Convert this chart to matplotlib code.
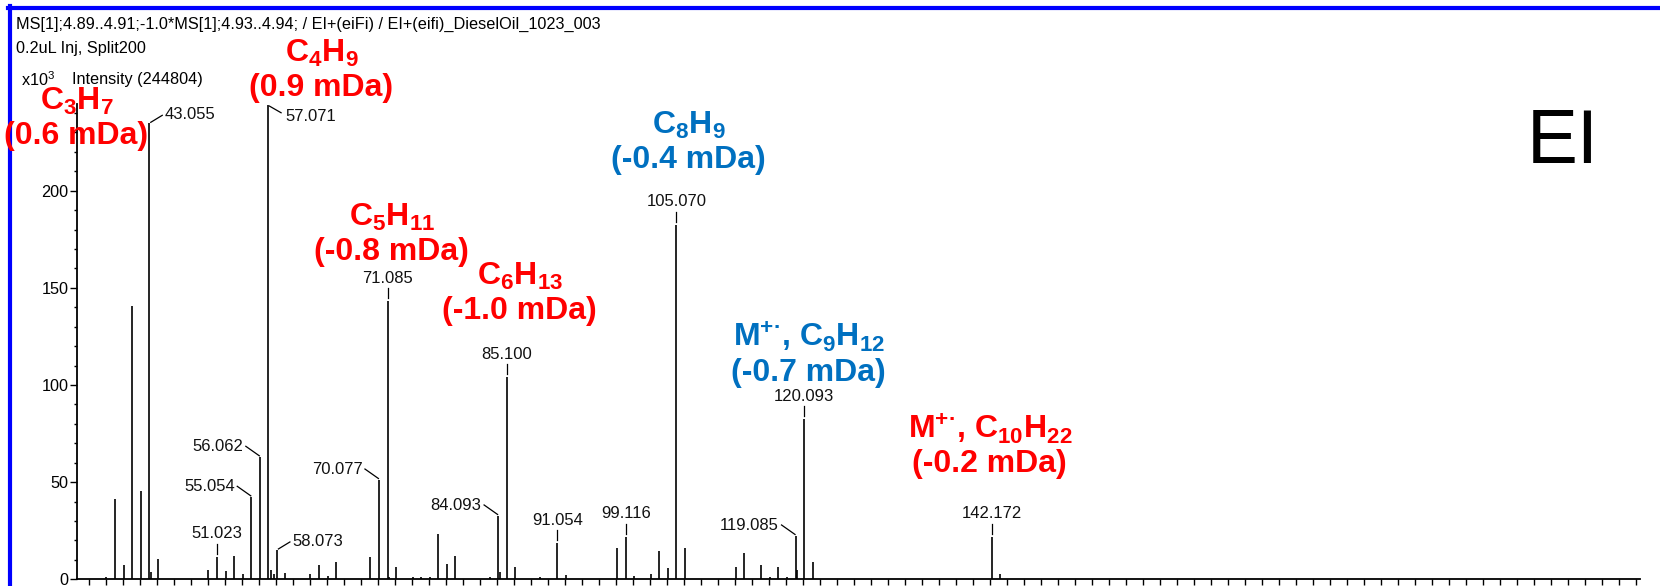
import matplotlib
matplotlib.use('Agg')
import matplotlib.pyplot as plt
from matplotlib.lines import Line2D
import numpy as np

W, H = 1660, 586

plt.rcParams['font.family'] = ['Liberation Sans', 'DejaVu Sans']
plt.rcParams['mathtext.default'] = 'regular'

# spectrum: m/z and intensity (x10^3)
mz = [38.02, 39.02, 40.03, 41.04, 42.05, 43.055, 43.3, 44.06,
      50.02, 51.023, 52.03, 53.04, 54.05, 55.054, 56.062, 57.071, 57.35, 57.7,
      58.073, 59.05, 62.02, 63.02, 64.03, 65.04, 67.05, 68.05, 69.07, 70.077,
      71.085, 71.3, 72.09, 74.05, 75.02, 76.03, 77.04, 78.05, 79.05, 82.08,
      83.09, 84.093, 84.3, 85.100, 86.10, 89.06, 91.054, 92.06, 95.08, 96.09,
      97.1, 98.11, 99.116, 100.12, 102.05, 103.05, 104.06, 105.070, 106.07,
      112.05, 113.08, 115.05, 116.06, 117.07, 118.08, 119.085, 119.3, 120.093,
      121.10, 124.08, 140.08, 142.172, 143.17]
intensity = [1.4, 41.5, 7.2, 140.8, 45.3, 234.7, 4.0, 10.5,
             4.8, 11.7, 4.1, 12.0, 2.6, 42.2, 62.8, 244.1, 4.8, 2.6,
             15.1, 3.4, 2.6, 7.2, 1.7, 8.7, 0.3, 0.3, 11.3, 51.1,
             143.0, 1.4, 6.2, 1.4, 1.4, 1.4, 23.2, 8.1, 12.0, 0.4,
             1.4, 32.6, 3.8, 104.0, 6.2, 1.4, 18.5, 2.4, 0.3, 0.3,
             0.3, 16.0, 22.0, 1.7, 2.6, 14.4, 5.7, 182.5, 16.0,
             6.2, 13.4, 7.2, 1.4, 6.2, 1.4, 22.3, 4.8, 82.5,
             8.7, 0.3, 0.3, 22.0, 2.7]

# labelled peaks
label_mz = [43.055, 57.071, 56.062, 55.054, 51.023, 58.073, 70.077, 71.085,
            84.093, 85.100, 91.054, 99.116, 105.070, 119.085, 120.093, 142.172]
label_side = ['ur', 'dr', 'ul', 'ul', 'v', 'ur', 'ul', 'v',
              'ul', 'v', 'v', 'v', 'v', 'ul', 'v', 'v']

# assigned formulas
formula = ['C$_3$H$_7$', 'C$_4$H$_9$', 'C$_5$H$_{11}$', 'C$_6$H$_{13}$',
           'C$_8$H$_9$', 'M$^{+·}$, C$_9$H$_{12}$', 'M$^{+·}$, C$_{10}$H$_{22}$']
mass_error = ['(0.6 mDa)', '(0.9 mDa)', '(-0.8 mDa)', '(-1.0 mDa)',
              '(-0.4 mDa)', '(-0.7 mDa)', '(-0.2 mDa)']
formula_color = ['#ff0000', '#ff0000', '#ff0000', '#ff0000',
                 '#0070c0', '#0070c0', '#ff0000']

header1 = 'MS[1];4.89..4.91;-1.0*MS[1];4.93..4.94; / EI+(eiFi) / EI+(eifi)_DieselOil_1023_003'
header2 = '0.2uL Inj, Split200'


def fig_xy(x, y):
    # image pixels (y down) -> figure fraction
    return x / W, 1 - y / H


def main():
    fig = plt.figure(figsize=(W / 100, H / 100), dpi=100)
    ax = fig.add_axes([76.7 / W, 1 - 579.3 / H, (1640 - 76.7) / W, (579.3 - 103.7) / H])
    ax.vlines(mz, 0, intensity, colors='black', linewidth=1.2)
    ax.set_xlim(34.52, 218.43)
    ax.set_ylim(0, 244.8)

    ax.spines['top'].set_visible(False)
    ax.spines['right'].set_visible(False)
    for s in ['left', 'bottom']:
        ax.spines[s].set_linewidth(1.3)
    ax.set_yticks(np.arange(0, 201, 50))
    ax.set_yticks(np.arange(0, 241, 10), minor=True)
    ax.set_xticks(np.arange(36, 219, 2))
    ax.set_xticklabels([])
    ax.tick_params(axis='y', which='major', length=4.8, width=1, labelsize=11.7, pad=1.2)
    ax.tick_params(axis='y', which='minor', length=2, width=1)
    ax.tick_params(axis='x', which='major', length=4.5, width=1)

    # peak labels with leaders (offsets in image pixels)
    layout = {
        'v': ((0, -3), (0, -13), (0, -18.5), 'center'),
        'ul': ((-14, -11), (-0.5, -1.5), (-16.5, -6), 'right'),
        'ur': ((1.5, -1), (13, -8), (15.5, -4), 'left'),
        'dr': ((1, 1), (12.7, 7.7), (16.7, 15.5), 'left'),
    }
    for m, side in zip(label_mz, label_side):
        h = intensity[mz.index(m)]
        dx, dy = ax.transData.transform((m, h))
        px, py = dx, H - dy
        a, b, t, ha = layout[side]
        x1, y1 = fig_xy(px + a[0], py + a[1])
        x2, y2 = fig_xy(px + b[0], py + b[1])
        fig.add_artist(Line2D([x1, x2], [y1, y2], color='black', linewidth=0.9))
        tx, ty = fig_xy(px + t[0], py + t[1])
        fig.text(tx, ty, f'{m:.3f}', ha=ha, va='baseline', fontsize=12, color='#111111')

    # formula annotations
    error_pos = [(76, 144), (321, 96), (391, 260), (519, 318.5),
                 (688, 168), (808, 381), (989, 472)]
    for f, e, c, (x, y) in zip(formula, mass_error, formula_color, error_pos):
        fx, fy = fig_xy(x, y)
        fig.text(fx, fy, e, ha='center', va='baseline', fontsize=23,
                 fontweight='bold', color=c, zorder=5)
        fx, fy = fig_xy(x + 1, y - 34)
        fig.text(fx, fy, f, ha='center', va='baseline', fontsize=23,
                 fontweight='bold', color=c, zorder=5)

    # header texts
    fig.text(*fig_xy(16, 24.4), header1, va='center', fontsize=11.7)
    fig.text(*fig_xy(16, 48.7), header2, va='center', fontsize=11.7)
    fig.text(*fig_xy(21, 79.4), 'x10$^3$', va='center', fontsize=11.7)
    fig.text(*fig_xy(72, 79.4), 'Intensity (244804)', va='center', fontsize=11.7)
    fig.text(*fig_xy(1563, 163), 'EI', ha='center', va='baseline', fontsize=55)

    # blue frame
    fig.add_artist(Line2D([8 / W, 1], [1 - 8.3 / H, 1 - 8.3 / H], color='#0000ff', linewidth=3))
    fig.add_artist(Line2D([10.3 / W, 10.3 / W], [0, 1 - 6 / H], color='#0000ff', linewidth=3))

    fig.savefig('out.png', dpi=100)


if __name__ == '__main__':
    main()
